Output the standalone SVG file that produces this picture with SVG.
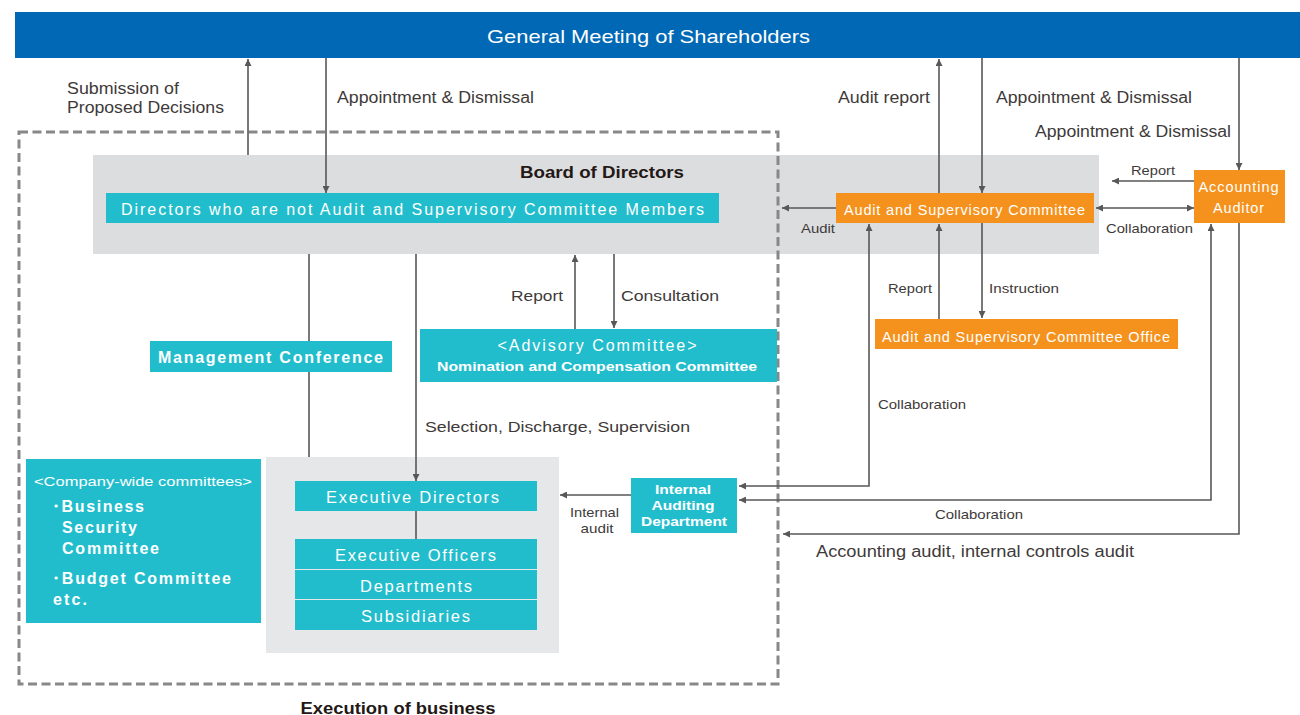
<svg xmlns="http://www.w3.org/2000/svg" width="1300" height="715" viewBox="0 0 1300 715">
<defs>
<marker id="arr" viewBox="0 0 10 10" refX="10" refY="5" markerWidth="9" markerHeight="7" markerUnits="userSpaceOnUse" orient="auto-start-reverse">
<path d="M0,0 L10,5 L0,10 z" fill="#595757"/>
</marker>
<style>
.lbl{font-family:"Liberation Sans",Arial,sans-serif;fill:#3e3a39;}
.wt{font-family:"Liberation Sans",Arial,sans-serif;fill:#ffffff;}
.cyan{fill:#22bdcc;}
.orange{fill:#f5921e;}
.ln{fill:none;stroke:#595757;stroke-width:1.6;}
.ar{marker-end:url(#arr);}
.ar2{marker-start:url(#arr);marker-end:url(#arr);}
</style>
</defs>
<rect width="1300" height="715" fill="#ffffff"/>

<g id="shareholders">
<rect x="15" y="12" width="1285" height="46" fill="#0068b5"/>
<text class="wt" x="648.5" y="43" font-size="19" text-anchor="middle" textLength="323" lengthAdjust="spacingAndGlyphs">General Meeting of Shareholders</text>
</g>

<g id="board">
<rect x="93" y="155" width="1006" height="99" fill="#dcdddf"/>
<text class="lbl" x="602" y="178" font-size="17" font-weight="bold" text-anchor="middle" textLength="164" lengthAdjust="spacingAndGlyphs" style="fill:#231815">Board of Directors</text>
</g>

<g id="exec-area">
<rect x="266" y="457" width="293" height="196" fill="#e6e7e9"/>
</g>

<g id="execution-area">
<rect x="19" y="132" width="759" height="552" fill="none" stroke="#888889" stroke-width="3" stroke-dasharray="9 4.5"/>
<text class="lbl" x="398" y="714" font-size="16" font-weight="bold" text-anchor="middle" textLength="195" lengthAdjust="spacingAndGlyphs" style="fill:#231815">Execution of business</text>
</g>

<g id="connectors">
<path class="ln ar" d="M248,155 V59"/>
<path class="ln ar" d="M326,58 V193"/>
<path class="ln ar" d="M939,193 V59"/>
<path class="ln ar" d="M982,58 V193"/>
<path class="ln ar" d="M1239,58 V170"/>
<path class="ln ar" d="M1195,181 H1112"/>
<path class="ln ar2" d="M1096,208 H1194"/>
<path class="ln ar" d="M836,208 H782"/>
<path class="ln ar" d="M939,319 V224"/>
<path class="ln ar" d="M982,223 V318"/>
<path class="ln ar2" d="M739,486 H869 V224"/>
<path class="ln ar2" d="M739,500 H1211 V224"/>
<path class="ln ar" d="M1239,223 V534 H783"/>
<path class="ln ar" d="M631,495 H560"/>
<path class="ln" d="M309,254 V457"/>
<path class="ln ar" d="M416,254 V481"/>
<path class="ln ar" d="M575,329 V255"/>
<path class="ln ar" d="M614,254 V328"/>
<path class="ln" d="M416,511 V539"/>
</g>

<g id="connector-labels">
<text class="lbl" x="67" y="94" font-size="16" textLength="112" lengthAdjust="spacingAndGlyphs">Submission of</text>
<text class="lbl" x="67" y="113" font-size="16" textLength="157" lengthAdjust="spacingAndGlyphs">Proposed Decisions</text>
<text class="lbl" x="337" y="103" font-size="16" textLength="197" lengthAdjust="spacingAndGlyphs">Appointment &amp; Dismissal</text>
<text class="lbl" x="838" y="103" font-size="16" textLength="92" lengthAdjust="spacingAndGlyphs">Audit report</text>
<text class="lbl" x="996" y="103" font-size="16" textLength="196" lengthAdjust="spacingAndGlyphs">Appointment &amp; Dismissal</text>
<text class="lbl" x="1035" y="137" font-size="16" textLength="196" lengthAdjust="spacingAndGlyphs">Appointment &amp; Dismissal</text>
<text class="lbl" x="1131" y="175" font-size="13.5" textLength="44" lengthAdjust="spacingAndGlyphs">Report</text>
<text class="lbl" x="1106" y="233" font-size="13.5" textLength="87" lengthAdjust="spacingAndGlyphs">Collaboration</text>
<text class="lbl" x="801" y="233" font-size="13.5" textLength="34" lengthAdjust="spacingAndGlyphs">Audit</text>
<text class="lbl" x="888" y="293" font-size="13.5" textLength="44" lengthAdjust="spacingAndGlyphs">Report</text>
<text class="lbl" x="989" y="293" font-size="13.5" textLength="70" lengthAdjust="spacingAndGlyphs">Instruction</text>
<text class="lbl" x="878" y="409" font-size="13.5" textLength="88" lengthAdjust="spacingAndGlyphs">Collaboration</text>
<text class="lbl" x="935" y="519" font-size="13.5" textLength="88" lengthAdjust="spacingAndGlyphs">Collaboration</text>
<text class="lbl" x="816" y="557" font-size="16" textLength="318" lengthAdjust="spacingAndGlyphs">Accounting audit, internal controls audit</text>
<text class="lbl" x="511" y="301" font-size="15.5" textLength="52" lengthAdjust="spacingAndGlyphs">Report</text>
<text class="lbl" x="621" y="301" font-size="15.5" textLength="98" lengthAdjust="spacingAndGlyphs">Consultation</text>
<text class="lbl" x="425" y="432" font-size="15.5" textLength="265" lengthAdjust="spacingAndGlyphs">Selection, Discharge, Supervision</text>
<text class="lbl" x="594.5" y="517" font-size="13.5" text-anchor="middle" textLength="49" lengthAdjust="spacingAndGlyphs">Internal</text>
<text class="lbl" x="597" y="533" font-size="13.5" text-anchor="middle" textLength="33" lengthAdjust="spacingAndGlyphs">audit</text>
</g>

<g id="directors">
<rect class="cyan" x="106" y="193" width="613" height="30"/>
<text class="wt" x="121" y="215" font-size="16" textLength="583" lengthAdjust="spacing">Directors who are not Audit and Supervisory Committee Members</text>
</g>

<g id="management-conference">
<rect class="cyan" x="150" y="341" width="242" height="31"/>
<text class="wt" x="158" y="363" font-size="16" font-weight="bold" textLength="225" lengthAdjust="spacing">Management Conference</text>
</g>

<g id="advisory-committee">
<rect class="cyan" x="420" y="329" width="357" height="53"/>
<text class="wt" x="597" y="351" font-size="16" text-anchor="middle" textLength="199" lengthAdjust="spacing">&lt;Advisory Committee&gt;</text>
<text class="wt" x="597" y="371" font-size="13.5" font-weight="bold" text-anchor="middle" textLength="320" lengthAdjust="spacingAndGlyphs">Nomination and Compensation Committee</text>
</g>

<g id="company-wide-committees">
<rect class="cyan" x="26" y="459" width="235" height="164"/>
<text class="wt" x="34" y="486" font-size="12.5" textLength="218" lengthAdjust="spacingAndGlyphs">&lt;Company-wide committees&gt;</text>
<text class="wt" x="52" y="512" font-size="16" font-weight="bold" textLength="92" lengthAdjust="spacing">･Business</text>
<text class="wt" x="62" y="533" font-size="16" font-weight="bold" textLength="75" lengthAdjust="spacing">Security</text>
<text class="wt" x="62" y="554" font-size="16" font-weight="bold" textLength="97" lengthAdjust="spacing">Committee</text>
<text class="wt" x="52" y="584" font-size="16" font-weight="bold" textLength="179" lengthAdjust="spacing">･Budget Committee</text>
<text class="wt" x="53" y="605" font-size="16" font-weight="bold" textLength="34" lengthAdjust="spacing">etc.</text>
</g>

<g id="executive-directors">
<rect class="cyan" x="295" y="481" width="242" height="30"/>
<text class="wt" x="412.5" y="503" font-size="16.5" text-anchor="middle" textLength="173" lengthAdjust="spacing">Executive Directors</text>
</g>

<g id="executive-officers">
<rect class="cyan" x="295" y="539" width="242" height="30"/>
<text class="wt" x="415.5" y="561" font-size="16.5" text-anchor="middle" textLength="161" lengthAdjust="spacing">Executive Officers</text>
</g>

<g id="departments">
<rect class="cyan" x="295" y="570" width="242" height="29"/>
<text class="wt" x="416" y="592" font-size="16.5" text-anchor="middle" textLength="112" lengthAdjust="spacing">Departments</text>
</g>

<g id="subsidiaries">
<rect class="cyan" x="295" y="600" width="242" height="30"/>
<text class="wt" x="415.5" y="622" font-size="16.5" text-anchor="middle" textLength="109" lengthAdjust="spacing">Subsidiaries</text>
</g>

<g id="internal-auditing">
<rect class="cyan" x="631" y="478" width="106" height="55"/>
<text class="wt" x="683" y="494" font-size="13" font-weight="bold" text-anchor="middle" textLength="56" lengthAdjust="spacingAndGlyphs">Internal</text>
<text class="wt" x="683" y="510" font-size="13" font-weight="bold" text-anchor="middle" textLength="63" lengthAdjust="spacingAndGlyphs">Auditing</text>
<text class="wt" x="684" y="526" font-size="13" font-weight="bold" text-anchor="middle" textLength="86" lengthAdjust="spacingAndGlyphs">Department</text>
</g>

<g id="audit-supervisory-committee">
<rect class="orange" x="836" y="193" width="258" height="30"/>
<text class="wt" x="844" y="215" font-size="14.5" textLength="241" lengthAdjust="spacing">Audit and Supervisory Committee</text>
</g>

<g id="asc-office">
<rect class="orange" x="875" y="319" width="303" height="30"/>
<text class="wt" x="882" y="342" font-size="14.5" textLength="288" lengthAdjust="spacing">Audit and Supervisory Committee Office</text>
</g>

<g id="accounting-auditor">
<rect class="orange" x="1194" y="170" width="91" height="53"/>
<text class="wt" x="1238.5" y="192" font-size="14.5" text-anchor="middle" textLength="80" lengthAdjust="spacing">Accounting</text>
<text class="wt" x="1238.5" y="213" font-size="14.5" text-anchor="middle" textLength="51" lengthAdjust="spacing">Auditor</text>
</g>
</svg>
